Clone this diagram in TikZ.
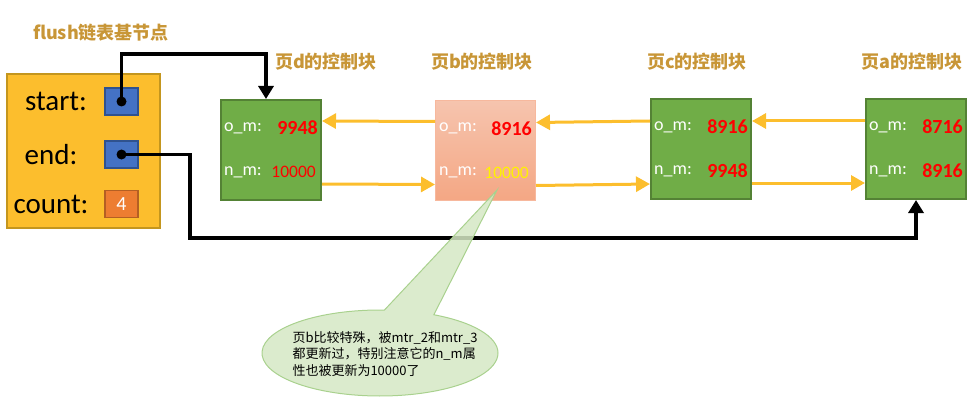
\documentclass[tikz,border=0pt]{standalone}
\usepackage{fontspec}
\setmainfont{Carlito}
\newfontfamily\cjk{Noto Sans CJK SC}
\usetikzlibrary{arrows,arrows.meta,shapes.callouts}
\definecolor{Gr}{RGB}{112,173,71}
\definecolor{GrD}{RGB}{84,130,53}
\definecolor{Ye}{RGB}{252,190,45}
\definecolor{YeD}{RGB}{196,150,30}
\definecolor{Bu}{RGB}{68,114,196}
\definecolor{BuD}{RGB}{47,82,143}
\definecolor{Or}{RGB}{237,125,49}
\definecolor{OrD}{RGB}{180,95,35}
\definecolor{Ti}{RGB}{200,150,55}
\definecolor{Rd}{RGB}{255,0,0}
\definecolor{Sa}{RGB}{244,167,132}
\definecolor{SaL}{RGB}{246,196,174}
\definecolor{SaD}{RGB}{247,184,157}
\definecolor{Nt}{RGB}{213,232,196}
\definecolor{NtD}{RGB}{169,209,142}

\tikzset{
  base/.style={draw=YeD, fill=Ye, line width=2pt, minimum width=153pt, minimum height=154pt},
  cell/.style={draw=BuD, fill=Bu, line width=1.5pt, minimum width=33pt, minimum height=27pt, inner sep=0pt},
  field/.style={font=\fontsize{29}{32}\selectfont, inner sep=0pt},
  page/.style={draw=GrD, fill=Gr, line width=2pt, minimum width=100pt, minimum height=100pt},
  bpage/.style={draw=SaD, top color=SaL, bottom color=Sa, line width=1pt},
  title/.style={font=\cjk\bfseries\fontsize{18}{21}\selectfont, text=Ti, inner sep=0pt},
  lab/.style={font=\fontsize{18}{20}\selectfont, text=white, anchor=west, inner sep=0pt},
  val/.style={font=\bfseries\fontsize{20}{22}\selectfont, text=Rd, anchor=east, inner sep=0pt},
  sval/.style={font=\fontsize{17.5}{20}\selectfont, text=Rd, anchor=east, inner sep=0pt},
  link/.style={draw=Ye, line width=3pt, -{Triangle[length=14pt,width=15pt]}},
  ptr/.style={draw=black, line width=3.5pt, -{Triangle[length=13pt,width=15pt]}},
  note/.style={draw=NtD, fill=Nt, fill opacity=0.85, line width=1pt},
  notetext/.style={font=\cjk\fontsize{13}{16.5}\selectfont, align=left, inner sep=0pt}
}

\begin{document}
\begin{tikzpicture}[x=1pt, y=-1pt]
   \useasboundingbox (0,0) rectangle (977,409);
   % flush list base node
   \node[base] (fl) at (83.5,151) {};
   \node[title] (flt) at (101,33) {flush链表基节点};
   \node[field] (st) at (56,101) {start:};
   \node[field] (en) at (51,155) {end:};
   \node[field] (ct) at (51,204) {count:};
   \node[cell] (stp) at (121.5,101.5) {};
   \node[cell] (enp) at (121.5,154.5) {};
   \node[cell, fill=Or, draw=OrD, text=white, font=\fontsize{20}{22}\selectfont] (ctv) at (121.5,204) {4};
   % control blocks
   \node[page] (pd) at (271,150) {};
   \node[page, bpage] (pb) at (485.5,150.5) {};
   \node[page] (pc) at (701,149) {};
   \node[page] (pa) at (916,149) {};
   \node[title] (tpd) at (326,62) {页d的控制块};
   \node[title] (tpb) at (482,62) {页b的控制块};
   \node[title] (tpc) at (697,62) {页c的控制块};
   \node[title] (tpa) at (912,62) {页a的控制块};
   % fields
   \node[lab] (omd) at ([xshift=4pt,yshift=22pt]pd.west) {o\_m:};
   \node[lab] (nmd) at ([xshift=4pt,yshift=-22pt]pd.west) {n\_m:};
   \node[val] (omdv) at ([xshift=-4pt,yshift=22pt]pd.east) {9948};
   \node[sval] (nmdv) at ([xshift=-6pt,yshift=-22pt]pd.east) {10000};
   \node[lab] (omb) at ([xshift=4pt,yshift=22pt]pb.west) {o\_m:};
   \node[lab] (nmb) at ([xshift=4pt,yshift=-22pt]pb.west) {n\_m:};
   \node[val] (ombv) at ([xshift=-4pt,yshift=22pt]pb.east) {8916};
   \node[sval, text=yellow] (nmbv) at ([xshift=-7pt,yshift=-22pt]pb.east) {10000};
   \node[lab] (omc) at ([xshift=4pt,yshift=22pt]pc.west) {o\_m:};
   \node[lab] (nmc) at ([xshift=4pt,yshift=-22pt]pc.west) {n\_m:};
   \node[val] (omcv) at ([xshift=-4pt,yshift=22pt]pc.east) {8916};
   \node[val] (nmcv) at ([xshift=-4pt,yshift=-22pt]pc.east) {9948};
   \node[lab] (oma) at ([xshift=4pt,yshift=22pt]pa.west) {o\_m:};
   \node[lab] (nma) at ([xshift=4pt,yshift=-22pt]pa.west) {n\_m:};
   \node[val] (omav) at ([xshift=-4pt,yshift=22pt]pa.east) {8716};
   \node[val] (nmav) at ([xshift=-4pt,yshift=-22pt]pa.east) {8916};
   % links between blocks
   \draw[link] ([yshift=29pt]pb.west) -- ([yshift=29pt]pd.east);
   \draw[link] ([yshift=-34pt]pd.east) -- ([yshift=-34pt]pb.west);
   \draw[link] ([yshift=28pt]pc.west) -- ([yshift=28pt]pb.east);
   \draw[link] ([yshift=-35pt]pb.east) -- ([yshift=-35pt]pc.west);
   \draw[link] ([yshift=28pt]pa.west) -- ([yshift=28pt]pc.east);
   \draw[link] ([yshift=-34pt]pc.east) -- ([yshift=-34pt]pa.west);
   % start / end pointers
   \coordinate (up) at (266,54);
   \coordinate (down) at (190,238);
   \draw[ptr] (stp.center) |- (up) -- (up |- pd.north);
   \draw[ptr] (enp.center) -| (down) -| (pa.south);
   \fill (stp.center) circle (5);
   \fill (enp.center) circle (5);
   % note
   \coordinate (tip) at (497,190);
   \node[note, ellipse callout, callout absolute pointer={(tip)}, callout pointer arc=25,
         minimum width=236pt, minimum height=86pt] (nt) at (380,353) {};
   \node[notetext] (ntt) at (385,354) {页b比较特殊，被mtr\_2和mtr\_3\\都更新过，特别注意它的n\_m属\\性也被更新为10000了};
\end{tikzpicture}
\end{document}
